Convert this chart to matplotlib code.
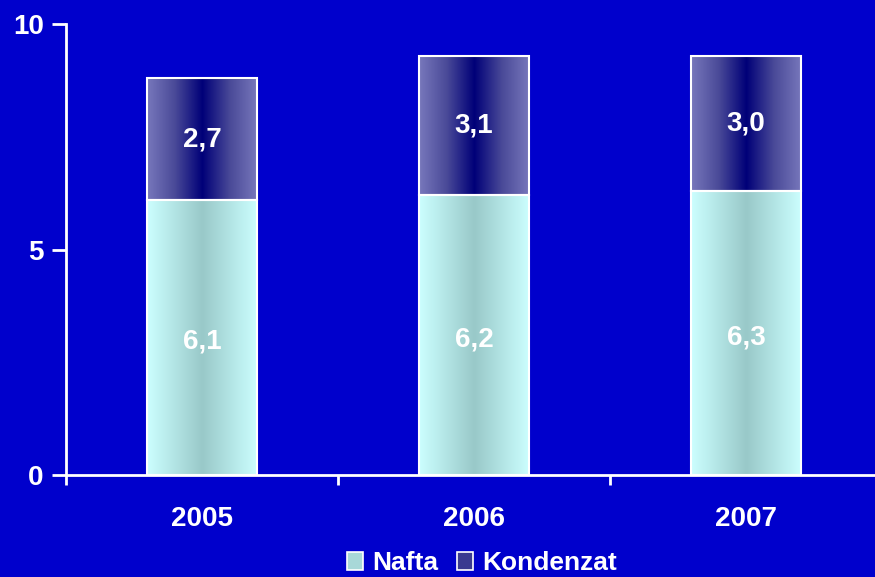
import matplotlib
matplotlib.use("Agg")
import matplotlib.pyplot as plt
import numpy as np
from matplotlib.colors import LinearSegmentedColormap
from matplotlib.patches import Rectangle

years = ["2005", "2006", "2007"]
nafta = [6.1, 6.2, 6.3]
kondenzat = [2.7, 3.1, 3.0]
series_names = ["Nafta", "Kondenzat"]
yticks = [0, 5, 10]

BG = "#0000CC"
plt.rcParams["font.family"] = ["Liberation Sans", "DejaVu Sans"]
plt.rcParams["font.weight"] = "bold"

fig = plt.figure(figsize=(8.75, 5.77), dpi=100, facecolor=BG)
ax = fig.add_axes([66 / 875, 1 - 475 / 577, (882 - 66) / 875, (475 - 24) / 577])
ax.set_facecolor(BG)

x = np.arange(len(years))
width = 0.405

cm_n = LinearSegmentedColormap.from_list("n", ["#CCFFFF", "#99C9C9", "#CCFFFF"])
cm_k = LinearSegmentedColormap.from_list("k", ["#7878BC", "#4A4A98", "#000078", "#4A4A98", "#7878BC"])

grad = np.linspace(0, 1, 256).reshape(1, -1)

def grad_bar(bar, cmap):
    bx, by = bar.get_x(), bar.get_y()
    w, h = bar.get_width(), bar.get_height()
    im = ax.imshow(grad, cmap=cmap, aspect="auto", extent=[bx, bx + w, by, by + h],
                   zorder=2, interpolation="bilinear")
    im.set_clip_path(bar)

bars_n = ax.bar(x, nafta, width, facecolor="none", edgecolor="white", linewidth=1.5, zorder=3)
bars_k = ax.bar(x, kondenzat, width, bottom=nafta, facecolor="none", edgecolor="white",
                linewidth=1.5, zorder=3)
for b in bars_n:
    grad_bar(b, cm_n)
for b in bars_k:
    grad_bar(b, cm_k)

for i in range(len(years)):
    ax.text(x[i], nafta[i] / 2 - 0.1, f"{nafta[i]:.1f}".replace(".", ","), ha="center", va="center",
            color="white", fontsize=20, fontweight="bold", zorder=4)
    ax.text(x[i], nafta[i] + kondenzat[i] / 2, f"{kondenzat[i]:.1f}".replace(".", ","),
            ha="center", va="center", color="white", fontsize=20, fontweight="bold", zorder=4)

ax.set_xlim(-0.5, 2.5)
ax.set_ylim(0, 10)
ax.set_yticks(yticks)
ax.set_yticklabels([str(t) for t in yticks], fontsize=20, fontweight="bold", color="white")
ax.set_xticks(x)
ax.set_xticklabels(years, fontsize=20, fontweight="bold", color="white")
ax.tick_params(axis="x", length=0, pad=22)
ax.set_xticks([-0.5, 0.5, 1.5, 2.5], minor=True)
ax.tick_params(axis="x", which="minor", length=7, width=2, color="white", direction="out")
ax.tick_params(axis="y", length=10, width=2, color="white", direction="out", pad=6)

for s in ["top", "right"]:
    ax.spines[s].set_visible(False)
for s in ["left", "bottom"]:
    ax.spines[s].set_color("white")
    ax.spines[s].set_linewidth(2)

handles = [Rectangle((0, 0), 1, 1, facecolor="#A8D8D8", edgecolor="white", linewidth=1.2),
           Rectangle((0, 0), 1, 1, facecolor="#3A3A90", edgecolor="white", linewidth=1.2)]
fig.legend(handles, series_names, loc="center", bbox_to_anchor=(482 / 875, 1 - 563 / 577),
           ncol=2, frameon=False, labelcolor="white", handlelength=0.6,
           handleheight=0.7, handletextpad=0.35, columnspacing=0.7, prop={"weight": "bold", "size": 19})

fig.savefig("out.png", dpi=100, facecolor=BG)
